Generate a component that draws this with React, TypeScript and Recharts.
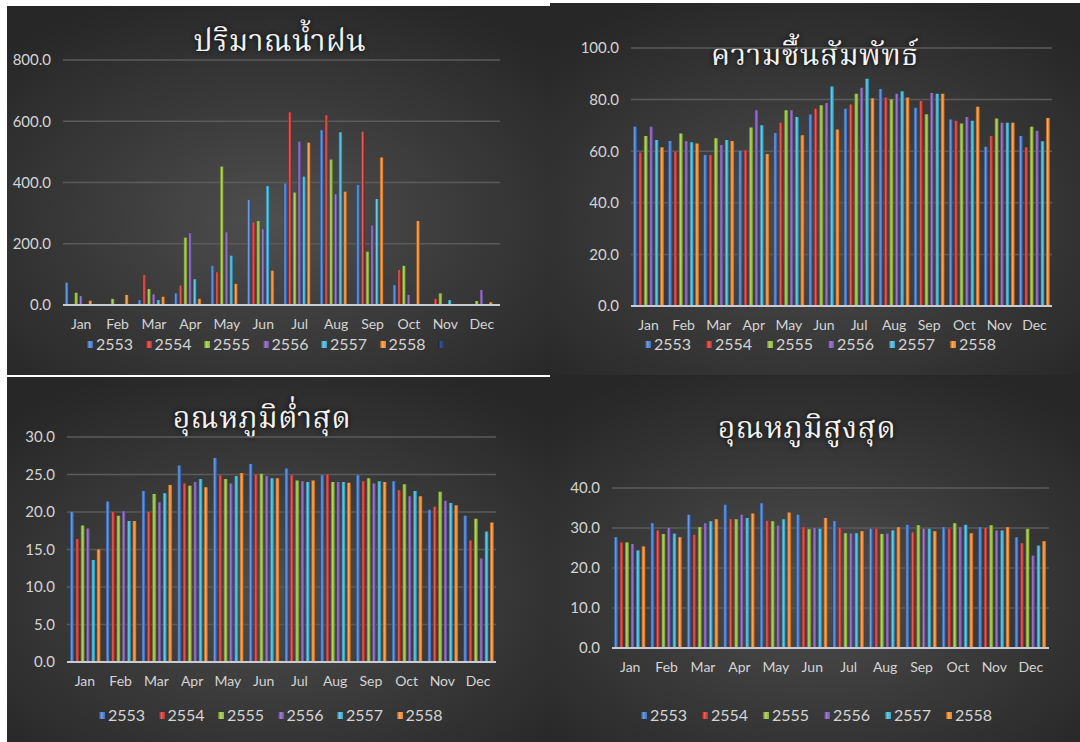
import { BarChart, Bar, XAxis, YAxis, CartesianGrid } from "recharts";

const MONTHS = ["Jan", "Feb", "Mar", "Apr", "May", "Jun", "Jul", "Aug", "Sep", "Oct", "Nov", "Dec"];
const YEARS = ["2553", "2554", "2555", "2556", "2557", "2558"];

// ปริมาณน้ำฝน (mm)
const rain2553 = [73, 3, 16, 38, 128, 343, 397, 571, 392, 65, 2, 2];
const rain2554 = [0, 0, 98, 63, 107, 269, 629, 620, 566, 114, 20, 0];
const rain2555 = [40, 20, 52, 220, 452, 274, 367, 475, 174, 128, 38, 13];
const rain2556 = [29, 0, 35, 234, 237, 247, 533, 362, 259, 33, 0, 49];
const rain2557 = [0, 0, 16, 84, 161, 388, 419, 564, 346, 0, 16, 0];
const rain2558 = [14, 33, 27, 20, 69, 112, 530, 370, 482, 274, 0, 9];
const rainBlank = [null, null, null, null, null, null, null, null, null, null, null, null];

// ความชื้นสัมพัทธ์ (%)
const hum2553 = [69.5, 64.0, 58.5, 60.2, 67.1, 74.2, 76.5, 84.1, 76.8, 72.3, 61.7, 65.9];
const hum2554 = [59.5, 59.8, 58.5, 60.4, 71.0, 76.5, 78.1, 80.8, 79.5, 71.8, 65.9, 61.5];
const hum2555 = [65.9, 66.9, 65.0, 69.2, 75.9, 77.8, 82.3, 80.1, 74.3, 70.7, 72.7, 69.5];
const hum2556 = [69.5, 63.9, 62.4, 75.9, 75.9, 78.7, 84.6, 82.3, 82.6, 73.3, 71.0, 67.9];
const hum2557 = [64.3, 63.5, 64.3, 70.1, 73.3, 85.1, 88.1, 83.2, 82.3, 71.8, 71.0, 63.9];
const hum2558 = [61.5, 63.0, 64.0, 58.9, 66.2, 68.4, 80.5, 80.8, 82.3, 77.2, 71.0, 72.9];

// อุณหภูมิต่ำสุด (°C)
const low2553 = [20.0, 21.4, 22.8, 26.2, 27.2, 26.4, 25.8, 24.9, 24.9, 24.1, 20.3, 19.5];
const low2554 = [16.4, 20.0, 20.0, 23.8, 24.9, 25.0, 24.9, 25.0, 24.1, 22.9, 20.7, 16.2];
const low2555 = [18.2, 19.5, 22.4, 23.5, 24.4, 25.1, 24.2, 24.0, 24.5, 23.7, 22.7, 19.1];
const low2556 = [17.8, 20.1, 21.3, 24.0, 23.8, 24.8, 24.1, 24.0, 23.8, 22.1, 21.5, 13.8];
const low2557 = [13.6, 18.8, 22.5, 24.4, 24.8, 24.5, 24.0, 24.0, 24.1, 22.8, 21.2, 17.4];
const low2558 = [15.0, 18.8, 23.6, 23.3, 25.2, 24.5, 24.2, 23.9, 24.0, 22.1, 20.9, 18.6];

// อุณหภูมิสูงสุด (°C)
const high2553 = [27.7, 31.2, 33.3, 35.8, 36.2, 33.3, 31.7, 29.8, 30.8, 30.2, 30.2, 27.7];
const high2554 = [26.4, 29.4, 28.3, 32.2, 31.8, 30.2, 30.0, 29.8, 28.9, 29.8, 30.0, 26.2];
const high2555 = [26.4, 28.5, 30.2, 32.2, 31.7, 29.7, 28.7, 28.5, 30.7, 31.2, 30.7, 29.8];
const high2556 = [26.0, 30.0, 31.2, 33.3, 30.6, 30.0, 28.6, 28.6, 29.8, 30.2, 29.4, 23.1];
const high2557 = [24.4, 28.6, 31.7, 32.5, 32.2, 29.8, 28.7, 29.4, 29.8, 30.8, 29.4, 25.6];
const high2558 = [25.4, 27.7, 32.2, 33.6, 33.9, 32.5, 29.2, 30.2, 29.2, 28.7, 30.2, 26.7];

const RAIN_TICKS = [0, 200, 400, 600, 800];
const HUM_TICKS = [0, 20, 40, 60, 80, 100];
const LOW_TICKS = [0, 5, 10, 15, 20, 25, 30];
const HIGH_TICKS = [0, 10, 20, 30, 40];

// cylinder-ish shading: dark edge, light centre, dark edge
const PALETTE = [
  { dark: "#22467f", base: "#3d72c2", light: "#6b9be0" },
  { dark: "#7a1c1a", base: "#c0322f", light: "#e0605b" },
  { dark: "#56761f", base: "#8db43c", light: "#b4d466" },
  { dark: "#452f66", base: "#7453a3", light: "#9c7cc8" },
  { dark: "#1b6a84", base: "#35a7ca", light: "#6ccbe6" },
  { dark: "#98501a", base: "#e8812b", light: "#f8a95a" },
  { dark: "#101d38", base: "#203864", light: "#34528a" },
];

const FONT = "Lato, 'Open Sans', sans-serif";
const TEXT = "#d4d4d4";

type Series = { name: string; values: (number | null)[] };

function buildRows(series: Series[]) {
  return MONTHS.map((m, i) => {
    const row: Record<string, string | number | null> = { month: m };
    series.forEach((s, k) => {
      row["s" + k] = s.values[i];
    });
    return row;
  });
}

function YearLegend({ series, x, y, step }: { series: Series[]; x: number; y: number; step: number }) {
  return (
    <div style={{ position: "absolute", left: x, top: y, display: "flex", fontFamily: FONT, fontSize: 16, color: TEXT, lineHeight: "16px" }}>
      {series.map((s, k) => (
        <div key={k} style={{ width: step, display: "flex", alignItems: "center" }}>
          <span
            style={{
              width: 6,
              height: 7,
              marginRight: 3,
              background: `linear-gradient(90deg, ${PALETTE[k].dark}, ${PALETTE[k].light} 40%, ${PALETTE[k].base})`,
            }}
          />
          <span>{s.name}</span>
        </div>
      ))}
    </div>
  );
}

type PanelProps = {
  id: string;
  left: number;
  top: number;
  width: number;
  height: number;
  title: string;
  titleX: number;
  titleY: number;
  series: Series[];
  domain: [number, number];
  ticks: number[];
  margin: { top: number; right: number; bottom: number; left: number };
  barSize: number;
  barGap: number;
  legendX: number;
  legendY: number;
  legendStep: number;
};

function Panel(p: PanelProps) {
  const rows = buildRows(p.series);
  return (
    <div
      style={{
        position: "absolute",
        left: p.left,
        top: p.top,
        width: p.width,
        height: p.height,
        overflow: "hidden",
        background: "radial-gradient(ellipse 70% 65% at 50% 58%, #4f4f4f 0%, #3c3c3c 45%, #272727 100%)",
      }}
    >
      <div
        style={{
          position: "absolute",
          left: p.titleX - 200,
          width: 400,
          top: p.titleY - 22,
          textAlign: "center",
          fontFamily: "'Noto Serif Thai', serif",
          fontSize: 30,
          lineHeight: "44px",
          letterSpacing: 0.5,
          color: "#f2f2f2",
          textShadow: "0 0 5px rgba(0,0,0,0.9)",
        }}
      >
        {p.title}
      </div>
      <div style={{ position: "absolute", left: 0, top: 0 }}>
        <BarChart width={p.width} height={p.height} data={rows} margin={p.margin} barSize={p.barSize} barGap={p.barGap}>
          <defs>
            {PALETTE.map((c, k) => (
              <linearGradient key={k} id={`${p.id}-g${k}`} x1="0" y1="0" x2="1" y2="0">
                <stop offset="0%" stopColor={c.dark} />
                <stop offset="40%" stopColor={c.light} />
                <stop offset="75%" stopColor={c.base} />
                <stop offset="100%" stopColor={c.dark} />
              </linearGradient>
            ))}
          </defs>
          <CartesianGrid vertical={false} stroke="#5b5b5b" strokeWidth={1.5} />
          <XAxis
            dataKey="month"
            axisLine={{ stroke: "#c9ccd3", strokeWidth: 2 }}
            tickLine={false}
            tickMargin={8}
            height={30}
            interval={0}
            tick={{ fill: TEXT, fontSize: 14, fontFamily: FONT }}
          />
          <YAxis
            domain={p.domain}
            ticks={p.ticks}
            width={50}
            axisLine={false}
            tickLine={false}
            tickMargin={6}
            tickFormatter={(v: number) => v.toFixed(1)}
            tick={{ fill: TEXT, fontSize: 15, fontFamily: FONT }}
          />
          {p.series.map((s, k) => (
            <Bar key={k} dataKey={"s" + k} name={s.name} fill={`url(#${p.id}-g${k})`} isAnimationActive={false} />
          ))}
        </BarChart>
      </div>
      <YearLegend series={p.series} x={p.legendX} y={p.legendY - 7} step={p.legendStep} />
    </div>
  );
}

export default function App() {
  const rain: Series[] = [
    { name: "2553", values: rain2553 },
    { name: "2554", values: rain2554 },
    { name: "2555", values: rain2555 },
    { name: "2556", values: rain2556 },
    { name: "2557", values: rain2557 },
    { name: "2558", values: rain2558 },
    { name: "", values: rainBlank },
  ];
  const hum = [hum2553, hum2554, hum2555, hum2556, hum2557, hum2558].map((v, k) => ({ name: YEARS[k], values: v }));
  const low = [low2553, low2554, low2555, low2556, low2557, low2558].map((v, k) => ({ name: YEARS[k], values: v }));
  const high = [high2553, high2554, high2555, high2556, high2557, high2558].map((v, k) => ({ name: YEARS[k], values: v }));

  return (
    <div style={{ position: "absolute", left: 0, top: 0, width: 1080, height: 742, background: "#ffffff", overflow: "hidden" }}>
      <Panel
        id="rain"
        left={7}
        top={6}
        width={543}
        height={369}
        title="ปริมาณน้ำฝน"
        titleX={273}
        titleY={37}
        series={rain}
        domain={[0, 800]}
        ticks={RAIN_TICKS}
        margin={{ top: 54, right: 50, bottom: 40, left: 6 }}
        barSize={3.5}
        barGap={1.2}
        legendX={80}
        legendY={337}
        legendStep={58.5}
      />
      <Panel
        id="hum"
        left={550}
        top={3}
        width={530}
        height={372}
        title="ความชื้นสัมพัทธ์"
        titleX={265}
        titleY={54}
        series={hum}
        domain={[0, 100]}
        ticks={HUM_TICKS}
        margin={{ top: 45, right: 28, bottom: 39, left: 31 }}
        barSize={4}
        barGap={1.4}
        legendX={95}
        legendY={340}
        legendStep={61}
      />
      <Panel
        id="low"
        left={7}
        top={377}
        width={543}
        height={365}
        title="อุณหภูมิต่ำสุด"
        titleX={255}
        titleY={43}
        series={low}
        domain={[0, 30]}
        ticks={LOW_TICKS}
        margin={{ top: 60, right: 54, bottom: 50, left: 10 }}
        barSize={4}
        barGap={1.33}
        legendX={92}
        legendY={337}
        legendStep={59.5}
      />
      <Panel
        id="high"
        left={550}
        top={375}
        width={530}
        height={367}
        title="อุณหภูมิสูงสุด"
        titleX={257}
        titleY={55}
        series={high}
        domain={[0, 40]}
        ticks={HIGH_TICKS}
        margin={{ top: 113, right: 31, bottom: 64, left: 12 }}
        barSize={4}
        barGap={1.5}
        legendX={91}
        legendY={339}
        legendStep={61}
      />
    </div>
  );
}
